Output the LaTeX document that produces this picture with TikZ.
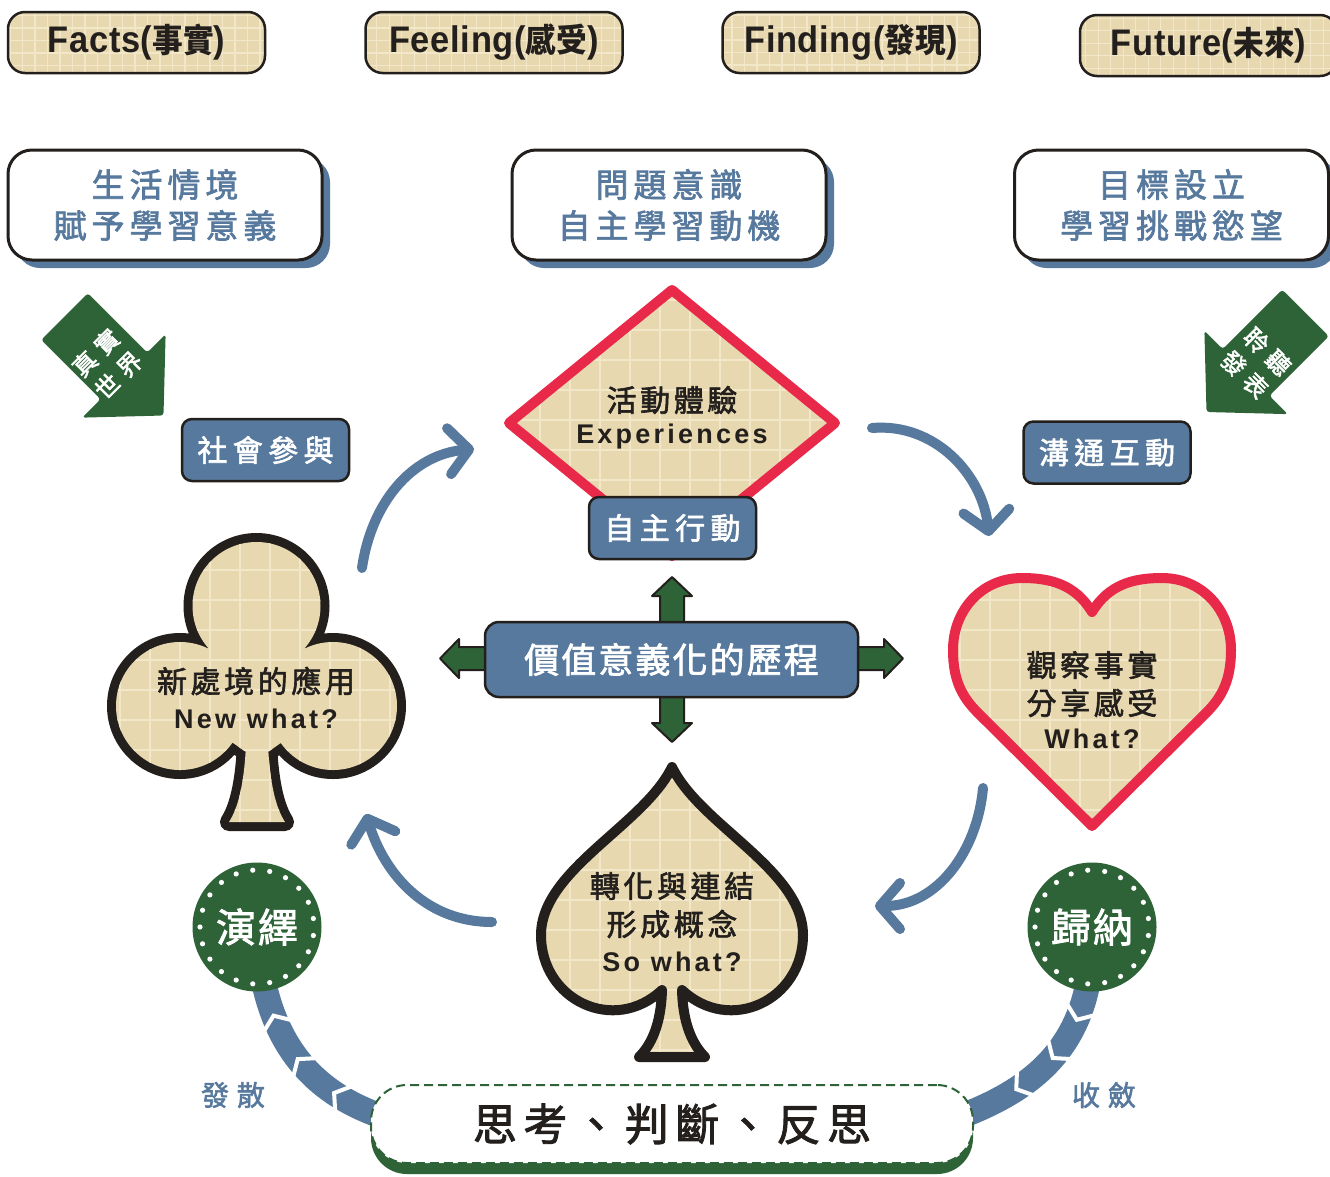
\documentclass[tikz,border=0pt]{standalone}
\usepackage{fontspec}
\usepackage{graphicx}
\usetikzlibrary{arrows.meta,shadows,decorations.markings}
\setmainfont{Liberation Sans}
\newfontfamily\cjk{Noto Sans CJK TC}
\newfontfamily\cjkm[FakeBold=2]{Noto Sans CJK TC}
\newfontfamily\lat{Liberation Sans}
\definecolor{cardtan}{HTML}{E8D8B0}
\definecolor{gridc}{HTML}{F3E7CA}
\definecolor{sblue}{HTML}{57799D}
\definecolor{dgreen}{HTML}{2E6338}
\definecolor{cred}{HTML}{E8294A}
\definecolor{ink}{HTML}{231F1C}
\newcommand\tagt[2]{\scalebox{0.93}[1]{\lat\bfseries\fontsize{37}{40}\selectfont\addfontfeature{LetterSpace=2}#1({\cjk\fontsize{33}{40}\selectfont#2})}}
\newcommand\chevmark{\draw[white,line width=4pt] (-7pt,-15pt) -- (4pt,0pt) -- (-7pt,15pt);}
\newcommand\clubpath{(256.5,-606) circle[radius=64pt] (180,-706) circle[radius=64pt] (333,-706) circle[radius=64pt]
  (256.5,-606) -- (180,-706) -- (333,-706) -- cycle
  (180,-706) -- (246,-752) -- (268,-752) -- (333,-706) -- cycle
  (246,-700) -- (246,-745) .. controls (244,-785) and (238,-808) .. (229,-822) -- (285,-822) .. controls (276,-808) and (270,-785) .. (268,-745) -- (268,-700) -- cycle}
\tikzset{
  grid30/.style={path picture={\draw[gridc,line width=2.2pt] (path picture bounding box.south west) grid[step=30pt] (path picture bounding box.north east);}},
  grid12/.style={path picture={\draw[gridc,line width=1.4pt] (path picture bounding box.south west) grid[step=12.5pt] (path picture bounding box.north east);}},
  tagbox/.style={draw=ink,line width=2.5pt,fill=cardtan,rounded corners=17pt,minimum width=257pt,minimum height=61pt,inner sep=0pt,text=ink,grid12},
  wbox/.style={draw=ink,line width=3pt,fill=white,rounded corners=24pt,minimum width=314pt,minimum height=110pt,inner sep=0pt,align=center,text=sblue,
     font={\cjkm\fontsize{33}{41}\selectfont\addfontfeature{LetterSpace=15}},
     drop shadow={shadow xshift=8pt,shadow yshift=-8pt,fill=sblue,opacity=1}},
  bbox/.style={draw=ink,line width=2.5pt,fill=sblue,rounded corners=10pt,minimum width=167pt,minimum height=62pt,inner sep=0pt,text=white,
     font={\cjkm\fontsize{30}{34}\selectfont\addfontfeature{LetterSpace=18}}},
  cbox/.style={draw=ink,line width=2.5pt,fill=sblue,rounded corners=14pt,minimum width=373pt,minimum height=75pt,inner sep=0pt,text=white,
     font={\cjkm\fontsize{35}{38}\selectfont\addfontfeature{LetterSpace=6}}},
  ctxt/.style={inner sep=0pt,text=ink,font={\cjkm\fontsize{30}{34}\selectfont\addfontfeature{LetterSpace=12}}},
  etxt/.style={inner sep=0pt,text=ink,font={\lat\bfseries\fontsize{27}{32}\selectfont\addfontfeature{LetterSpace=12}}},
  arrtxt/.style={inner sep=0pt,text=white,align=center,font={\cjkm\fontsize{24}{32}\selectfont\addfontfeature{LetterSpace=30}}},
  gcirc/.style={circle,fill=dgreen,minimum size=129pt,inner sep=0pt,text=white,font={\cjkm\fontsize{40}{42}\selectfont\addfontfeature{LetterSpace=5}}},
  lbl/.style={inner sep=0pt,text=sblue,font={\cjkm\fontsize{28}{32}\selectfont\addfontfeature{LetterSpace=28}}},
  thinkbox/.style={draw=dgreen,line width=2pt,dash pattern=on 9pt off 5pt,fill=white,rounded corners=36pt,minimum width=602pt,minimum height=78pt,inner sep=0pt,text=ink,
     font={\cjkm\fontsize{44}{48}\selectfont\addfontfeature{LetterSpace=15}},
     drop shadow={shadow xshift=0pt,shadow yshift=-11pt,fill=dgreen,opacity=1}},
  greenarrow/.style={fill=dgreen,draw=ink,line width=2pt,line join=round},
  bluearc/.style={draw=sblue,line width=10pt,line cap=round,-{Straight Barb[length=20pt,width=46pt,round]}},
  band/.style={draw=sblue,line width=25pt,postaction={decorate}},
  bandmarks/.style n args={3}{decoration={markings,mark=at position #1 with {\chevmark},mark=at position #2 with {\chevmark},mark=at position #3 with {\chevmark}}},
}
\begin{document}
\begin{tikzpicture}[x=1pt,y=1pt]
\useasboundingbox (0,0) rectangle (1330,-1176);
\fill[white] (0,0) rectangle (1330,-1176);

% top tags
\node[tagbox] (tFacts) at (136.5,-42.5) {\tagt{Facts}{事實}};
\node[tagbox] (tFeel) at (494,-42.5) {\tagt{Feeling}{感受}};
\node[tagbox] (tFind) at (851,-42.5) {\tagt{Finding}{發現}};
\node[tagbox] (tFut) at (1208.5,-45.5) {\tagt{Future}{未來}};

% second row
\node[wbox] (w1) at (165,-205) {生活情境\\賦予學習意義};
\node[wbox] (w2) at (669,-205) {問題意識\\自主學習動機};
\node[wbox] (w3) at (1171.5,-205) {目標設立\\學習挑戰慾望};

% diagonal green arrows
\begin{scope}[shift={(64.5,-316.5)},rotate=-45]
  \fill[dgreen,rounded corners=3pt] (0,33) -- (84,33) -- (84,59) -- (140,0) -- (84,-59) -- (84,-33) -- (0,-33) -- cycle;
\end{scope}
\begin{scope}[shift={(1305.5,-313)},rotate=-135]
  \fill[dgreen,rounded corners=3pt] (0,33) -- (84,33) -- (84,59) -- (140,0) -- (84,-59) -- (84,-33) -- (0,-33) -- cycle;
\end{scope}
\node[arrtxt,rotate=45] (a1) at (107,-364) {真實\\世界};
\node[arrtxt,rotate=-45] (a2) at (1256,-363) {聆聽\\發表};

% diamond
\path[draw=cred,fill=cardtan,line width=10pt,line join=round,grid30] (672,-290) -- (835,-423) -- (672,-556) -- (509,-423) -- cycle;
\node[ctxt] (d1) at (672,-400) {活動體驗};
\node[etxt] (d2) at (672,-437) {Experiences};
\node[bbox] (bz) at (672.5,-528) {自主行動};
\node[bbox] (bs) at (265.5,-450) {社會參與};
\node[bbox] (bc) at (1107,-452.5) {溝通互動};

% cross arrows and central box
\filldraw[greenarrow] (672,-577) -- (692,-596) -- (684,-596) -- (684,-723) -- (692,-723) -- (672,-742) -- (652,-723) -- (660,-723) -- (660,-596) -- (652,-596) -- cycle;
\filldraw[greenarrow] (440,-658.5) -- (459,-639) -- (459,-647) -- (884,-647) -- (884,-639) -- (903,-658.5) -- (884,-678) -- (884,-670) -- (459,-670) -- (459,-678) -- cycle;
\node[cbox] (core) at (671.5,-659.5) {價值意義化的歷程};

% heart
\path[draw=cred,fill=cardtan,line width=10pt,line join=round,grid30]
  (1092,-612) .. controls (1075,-584) and (1050,-578) .. (1022,-578)
  .. controls (982,-578) and (953,-610) .. (953,-650)
  .. controls (953,-680) and (962,-697) .. (978,-713) -- (1092,-826) -- (1206,-713)
  .. controls (1222,-697) and (1231,-680) .. (1231,-650)
  .. controls (1231,-610) and (1202,-578) .. (1162,-578)
  .. controls (1134,-578) and (1109,-584) .. (1092,-612) -- cycle;
\node[ctxt] (h1) at (1092,-665) {觀察事實};
\node[ctxt] (h2) at (1092,-703) {分享感受};
\node[etxt] (h3) at (1092,-739) {What?};

% club: outline of the union, then the union filled over the inner halves
\draw[ink,line width=18pt,line join=round] \clubpath;
\path[fill=cardtan,grid30] \clubpath;
\node[ctxt] (k1) at (256,-681) {新處境的應用};
\node[etxt] (k2) at (256,-719) {New what?};

% spade
\path[draw=ink,fill=cardtan,line width=10pt,line join=round,grid30]
  (672,-767) .. controls (700,-825) and (803,-870) .. (803,-935)
  .. controls (803,-1000) and (730,-1035) .. (682,-990)
  .. controls (683,-1025) and (693,-1045) .. (705,-1057) -- (639,-1057)
  .. controls (651,-1045) and (661,-1025) .. (662,-990)
  .. controls (614,-1035) and (541,-1000) .. (541,-935)
  .. controls (541,-870) and (644,-825) .. (672,-767) -- cycle;
\node[ctxt] (s1) at (672,-886) {轉化與連結};
\node[ctxt] (s2) at (672,-924) {形成概念};
\node[etxt] (s3) at (672,-962) {So what?};

% bands
\coordinate (g1c) at (257,-927);
\coordinate (g2c) at (1092,-927);
\coordinate (tbL) at (400,-1122);
\coordinate (tbR) at (945,-1122);
\draw[band,bandmarks={0.26}{0.45}{0.64}] (tbL) .. controls (320,-1100) and (262,-1050) .. (g1c);
\draw[band,bandmarks={0.34}{0.51}{0.69}] (g2c) .. controls (1095,-1040) and (1040,-1090) .. (tbR);

% green circles
\node[gcirc] (g1) at (g1c) {演繹};
\node[gcirc] (g2) at (g2c) {歸納};
\foreach \k in {0,...,20} {
  \fill[white] ([shift={({8.57+\k*17.143}:57pt)}]g1.center) circle[radius=2.6pt];
  \fill[white] ([shift={({8.57+\k*17.143}:57pt)}]g2.center) circle[radius=2.6pt];
}

% bottom box
\node[thinkbox] (tb) at (672,-1124) {思考、判斷、反思};
\node[lbl] (l1) at (233,-1095) {發散};
\node[lbl] (l2) at (1104,-1095) {收斂};

% blue circular arrows
\coordinate (c1s) at (362,-568); \coordinate (c1e) at (474,-449);
\coordinate (c2s) at (872,-428); \coordinate (c2e) at (989,-536);
\coordinate (c3s) at (983,-788); \coordinate (c3e) at (875,-906);
\coordinate (c4s) at (492,-922); \coordinate (c4e) at (366,-814);
\draw[bluearc] (c1s) to[out=82,in=185] (c1e);
\draw[bluearc] (c2s) to[out=5,in=96] (c2e);
\draw[bluearc] (c3s) to[out=265,in=0] (c3e);
\draw[bluearc] (c4s) to[out=180,in=287] (c4e);
\end{tikzpicture}
\end{document}
